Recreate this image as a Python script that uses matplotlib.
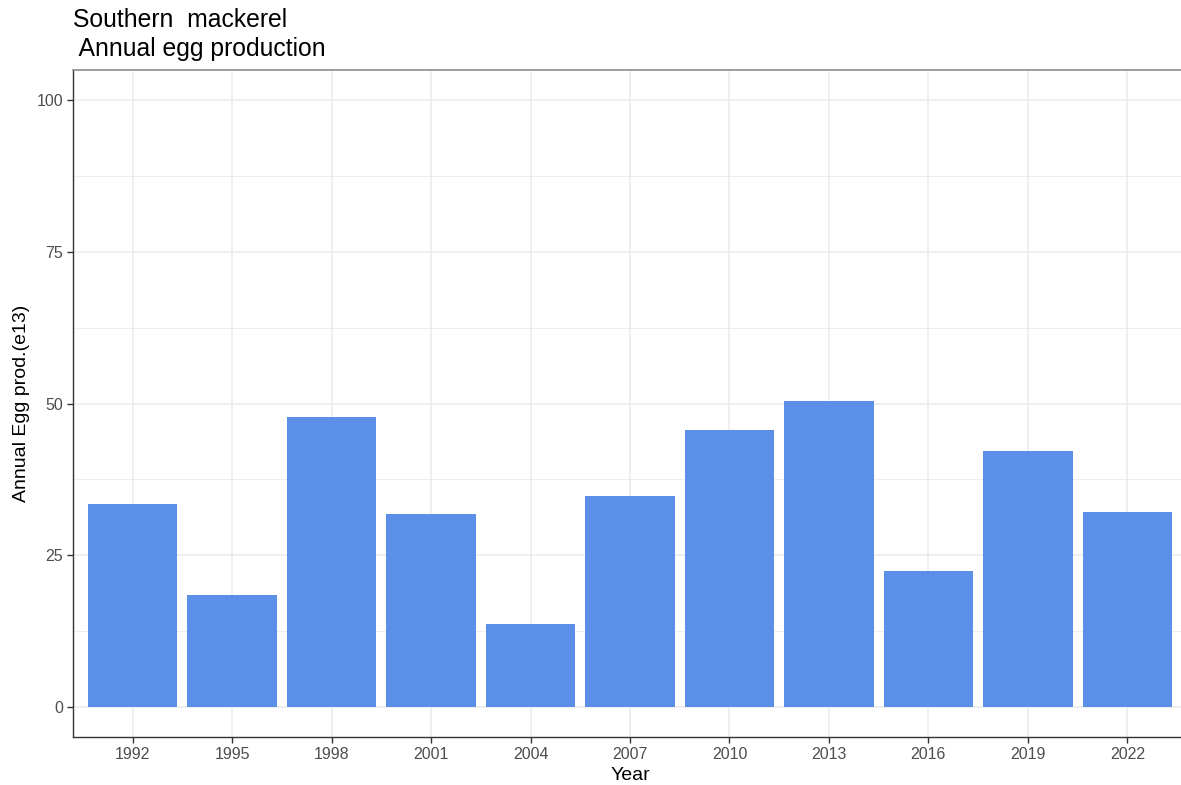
import numpy as np
import matplotlib.pyplot as plt

plt.rcParams['font.family'] = ['Liberation Sans', 'DejaVu Sans']

years = ['1992', '1995', '1998', '2001', '2004', '2007', '2010', '2013', '2016', '2019', '2022']
egg_prod = [33.4, 18.4, 47.7, 31.7, 13.7, 34.7, 45.7, 50.4, 22.4, 42.1, 32.1]

bar_color = '#5b8fe8'
grid_color = '#ebebeb'

fig = plt.figure(figsize=(11.81, 7.85), dpi=100)
ax = fig.add_axes([73 / 1181, 1 - 737 / 785, (1187 - 73) / 1181, (737 - 70) / 785])

x = np.arange(1, len(years) + 1)
ax.bar(x, egg_prod, width=0.9, color=bar_color, zorder=3)

ax.set_xlim(0.4, len(years) + 0.6)
ax.set_ylim(-5, 105)
ax.set_xticks(x)
ax.set_xticklabels(years)
ax.set_yticks([0, 25, 50, 75, 100])
ax.set_yticks([12.5, 37.5, 62.5, 87.5], minor=True)

# grid like theme_bw
ax.grid(which='major', color=grid_color, linewidth=1.1, zorder=0)
ax.grid(which='minor', axis='y', color=grid_color, linewidth=0.6, zorder=0)
ax.set_axisbelow(True)

ax.tick_params(axis='both', which='major', length=4, width=1, color='#333333',
               labelcolor='#4d4d4d', labelsize=11.5, pad=3)
ax.tick_params(axis='both', which='minor', length=0)

for side in ['top', 'right']:
    ax.spines[side].set_color('#8c8c8c')
    ax.spines[side].set_linewidth(1.2)
for side in ['left', 'bottom']:
    ax.spines[side].set_color('#333333')
    ax.spines[side].set_linewidth(1.0)

ax.set_xlabel('Year', fontsize=14, labelpad=4)
ax.set_ylabel('Annual Egg prod.(e13)', fontsize=14, labelpad=5)

fig.text(73 / 1181, 1 - 8 / 785, 'Southern  mackerel\n Annual egg production',
         fontsize=17.8, ha='left', va='top', linespacing=1.25)

fig.savefig('out.png', dpi=100)
